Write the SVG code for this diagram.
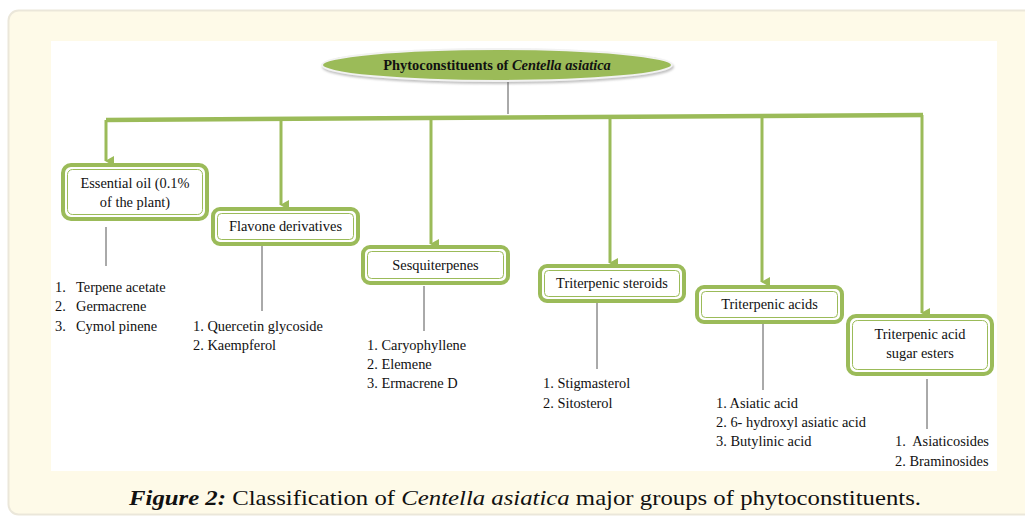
<svg xmlns="http://www.w3.org/2000/svg" width="1025" height="517" viewBox="0 0 1025 517">
<defs>
<style>
.t{font-family:"Liberation Serif","Times New Roman",serif;font-size:14.4px;fill:#111}
.bx{fill:#fff;stroke:#9bbb59;stroke-width:4}
.bi{fill:none;stroke:#9bbb59;stroke-width:1}
.gl{stroke:#9bbb59;stroke-width:3;fill:none}
.ln{stroke:#555;stroke-width:1;fill:none}
</style>
<marker id="ah" markerWidth="10" markerHeight="10" refX="5" refY="8" orient="auto" markerUnits="userSpaceOnUse" viewBox="0 0 10 10">
<path d="M0,0 L10,0 L5,9 Z" fill="#9bbb59"/>
</marker>
<filter id="sh" x="-10%" y="-50%" width="120%" height="200%"><feDropShadow dx="1" dy="2" stdDeviation="1.2" flood-color="#999" flood-opacity="0.6"/></filter>
</defs>
<rect x="8.5" y="10.5" width="1030" height="504" rx="10" fill="#fefae8" stroke="#ebe7da" stroke-width="2"/>
<rect x="51" y="41" width="946" height="430" fill="#fff"/>
<g id="root">
<ellipse cx="497" cy="65" rx="175" ry="16" fill="#9bbb59" stroke="#f2f2f2" stroke-width="2" filter="url(#sh)"/>
<text x="497" y="70" text-anchor="middle" style="font-family:'Liberation Serif',serif;font-size:14.4px;font-weight:bold;fill:#111">Phytoconstituents of <tspan font-style="italic">Centella  asiatica</tspan></text>
</g>
<g id="connectors">
<line class="ln" x1="508" y1="82" x2="508" y2="114"/>
<path d="M106,120 L923,115" stroke="#9bbb59" stroke-width="4.5" fill="none"/>
<line class="gl" x1="106" y1="120" x2="106" y2="161" marker-end="url(#ah)"/>
<line class="gl" x1="281" y1="119" x2="281" y2="205" marker-end="url(#ah)"/>
<line class="gl" x1="431" y1="118" x2="431" y2="244" marker-end="url(#ah)"/>
<line class="gl" x1="610" y1="117" x2="610" y2="263" marker-end="url(#ah)"/>
<line class="gl" x1="762" y1="117" x2="762" y2="282" marker-end="url(#ah)"/>
<line class="gl" x1="922" y1="115" x2="922" y2="313" marker-end="url(#ah)"/>
<line class="ln" x1="106" y1="227" x2="106" y2="266"/>
<line class="ln" x1="262" y1="245" x2="262" y2="311"/>
<line class="ln" x1="424" y1="286" x2="424" y2="331"/>
<line class="ln" x1="597" y1="300" x2="597" y2="369"/>
<line class="ln" x1="763" y1="322" x2="763" y2="390"/>
<line class="ln" x1="927" y1="379" x2="927" y2="429"/>
</g>
<g id="n1">
<rect class="bx" x="63" y="165" width="144" height="54" rx="8"/>
<rect class="bi" x="67.5" y="169.5" width="135" height="45" rx="5"/>
<text class="t" x="135" y="188" text-anchor="middle">Essential oil (0.1%</text>
<text class="t" x="135" y="207" text-anchor="middle">of the plant)</text>
</g>
<g id="n2">
<rect class="bx" x="213" y="209" width="145" height="35" rx="7"/>
<rect class="bi" x="217.5" y="213.5" width="136" height="26" rx="4"/>
<text class="t" x="285.5" y="231" text-anchor="middle">Flavone derivatives</text>
</g>
<g id="n3">
<rect class="bx" x="363" y="247" width="145" height="36" rx="7"/>
<rect class="bi" x="367.5" y="251.5" width="136" height="27" rx="4"/>
<text class="t" x="435.5" y="270" text-anchor="middle">Sesquiterpenes</text>
</g>
<g id="n4">
<rect class="bx" x="540" y="266" width="144" height="35" rx="7"/>
<rect class="bi" x="544.5" y="270.5" width="135" height="26" rx="4"/>
<text class="t" x="612" y="288" text-anchor="middle">Triterpenic steroids</text>
</g>
<g id="n5">
<rect class="bx" x="697" y="287" width="145" height="35" rx="7"/>
<rect class="bi" x="701.5" y="291.5" width="136" height="26" rx="4"/>
<text class="t" x="769.5" y="309" text-anchor="middle">Triterpenic acids</text>
</g>
<g id="n6">
<rect class="bx" x="848" y="316" width="144" height="58" rx="8"/>
<rect class="bi" x="852.5" y="320.5" width="135" height="49" rx="5"/>
<text class="t" x="920" y="339" text-anchor="middle">Triterpenic acid</text>
<text class="t" x="920" y="358" text-anchor="middle">sugar esters</text>
</g>
<g id="l1" class="t">
<text x="55" y="292">1.</text><text x="76" y="292">Terpene acetate</text>
<text x="55" y="311">2.</text><text x="76" y="311">Germacrene</text>
<text x="55" y="331">3.</text><text x="76" y="331">Cymol pinene</text>
</g>
<g id="l2" class="t">
<text x="193" y="331">1. Quercetin glycoside</text>
<text x="193" y="350">2. Kaempferol</text>
</g>
<g id="l3" class="t">
<text x="367" y="350">1. Caryophyllene</text>
<text x="367" y="369">2. Elemene</text>
<text x="367" y="388">3. Ermacrene D</text>
</g>
<g id="l4" class="t">
<text x="543" y="388">1. Stigmasterol</text>
<text x="543" y="408">2. Sitosterol</text>
</g>
<g id="l5" class="t">
<text x="716" y="408">1. Asiatic acid</text>
<text x="716" y="427">2. 6- hydroxyl asiatic acid</text>
<text x="716" y="446">3. Butylinic acid</text>
</g>
<g id="l6" class="t">
<text x="895" y="446" xml:space="preserve">1.  Asiaticosides</text>
<text x="895" y="466">2. Braminosides</text>
</g>
<text x="525" y="505" text-anchor="middle" textLength="792" lengthAdjust="spacingAndGlyphs" style="font-family:'Liberation Serif',serif;font-size:22px;fill:#111"><tspan font-weight="bold" font-style="italic">Figure 2:</tspan> Classification of <tspan font-style="italic">Centella asiatica</tspan> major groups of phytoconstituents.</text>
</svg>
